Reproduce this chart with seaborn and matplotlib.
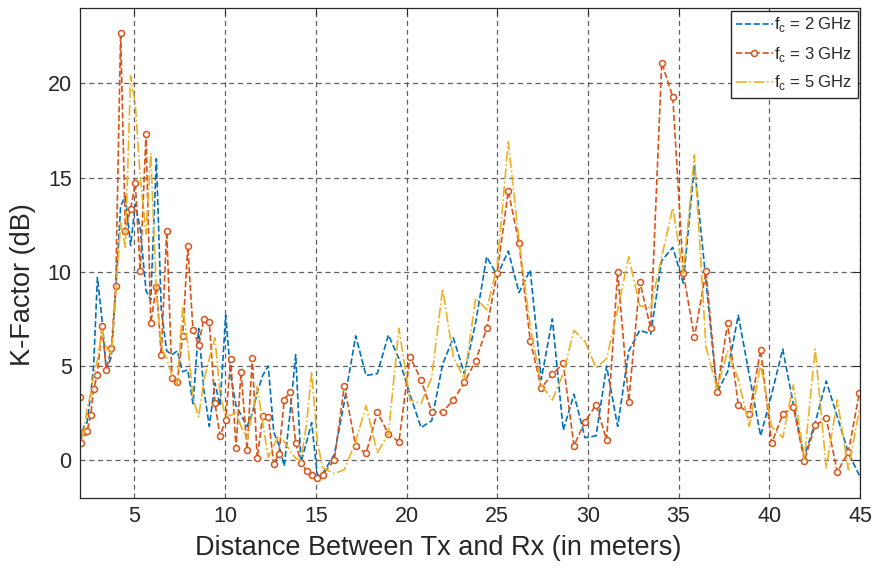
import numpy as np
import pandas as pd
import seaborn as sns
import matplotlib
matplotlib.use("Agg")
import matplotlib.pyplot as plt

distance = [2.00, 2.03, 2.22, 2.39, 2.59, 2.75, 2.96, 3.21, 3.45, 3.73,
            3.97, 4.24, 4.50, 4.79, 5.05, 5.32, 5.64, 5.90, 6.21, 6.48,
            6.78, 7.07, 7.36, 7.66, 7.94, 8.23, 8.54, 8.82, 9.13, 9.44,
            9.72, 10.03, 10.31, 10.60, 10.88, 11.21, 11.50, 11.77, 12.07, 12.38,
            12.68, 12.97, 13.26, 13.58, 13.89, 14.18, 14.50, 14.77, 15.08, 15.38,
            16.02, 16.57, 17.20, 17.77, 18.39, 19.00, 19.58, 20.19, 20.80, 21.39,
            21.99, 22.58, 23.19, 23.81, 24.42, 25.00, 25.61, 26.20, 26.82, 27.43,
            28.04, 28.64, 29.23, 29.84, 30.45, 31.03, 31.64, 32.25, 32.86, 33.46,
            34.07, 34.68, 35.26, 35.87, 36.51, 37.12, 37.70, 38.29, 38.90, 39.52,
            40.13, 40.74, 41.32, 41.93, 42.53, 43.14, 43.75, 44.36, 44.96]

k_2ghz = [0.6, 1.0, 1.8, 2.0, 3.5, 5.0, 9.7, 7.5, 4.8, 5.5,
          9.0, 13.5, 14.0, 11.4, 13.6, 12.3, 9.0, 8.5, 16.0, 8.0,
          5.8, 5.6, 5.8, 4.7, 4.8, 3.0, 7.0, 3.8, 1.8, 4.1,
          2.9, 7.7, 4.5, 2.9, 2.4, 1.8, 2.5, 3.6, 4.5, 5.0,
          1.5, 0.8, -0.3, 2.5, 5.6, -0.1, 1.0, 2.0, -0.8, -0.7,
          0.3, 3.1, 6.6, 4.5, 4.6, 6.65, 5.4, 3.5, 1.74, 2.1,
          5.1, 6.5, 4.6, 7.3, 10.8, 9.8, 11.1, 8.9, 10.1, 4.3,
          7.5, 1.6, 3.5, 1.2, 1.3, 5.0, 1.8, 5.8, 6.9, 6.7,
          10.6, 11.3, 9.4, 15.65, 9.5, 3.6, 4.7, 7.7, 4.5, 1.3,
          3.5, 5.9, 3.0, 0.2, 2.0, 4.2, 2.3, 0.4, -0.8]

k_3ghz = [3.37, 0.94, 1.49, 1.54, 2.39, 3.78, 4.54, 7.11, 4.80, 5.96,
          9.27, 22.68, 12.18, 13.35, 14.72, 10.04, 17.29, 7.29, 9.22, 5.60,
          12.18, 4.38, 4.13, 6.61, 11.35, 6.91, 6.13, 7.48, 7.32, 3.03,
          1.29, 2.14, 5.37, 0.67, 4.70, 0.55, 5.43, 0.11, 2.36, 2.32,
          -0.21, 0.36, 3.21, 3.65, 0.94, -0.12, -0.57, -0.80, -0.92, -0.76,
          0.02, 3.95, 0.76, 0.37, 2.55, 1.42, 0.97, 5.50, 4.27, 2.57,
          2.57, 3.19, 4.13, 5.28, 7.00, 9.95, 14.29, 11.53, 6.35, 3.85,
          4.56, 5.14, 0.78, 2.05, 2.95, 1.08, 9.98, 3.12, 9.47, 7.01,
          21.10, 19.27, 9.93, 6.52, 10.02, 3.63, 7.27, 2.94, 2.45, 5.87,
          0.90, 2.45, 2.84, -0.02, 1.86, 2.22, -0.62, 0.44, 3.56]

k_5ghz = [2.6, 1.0, 1.5, 2.8, 3.5, 4.5, 5.3, 6.9, 6.0, 5.6,
          8.8, 12.6, 11.3, 20.4, 18.9, 15.0, 12.0, 16.3, 9.0, 6.0,
          5.4, 4.5, 4.0, 8.1, 6.2, 3.3, 2.3, 4.2, 5.4, 6.5,
          3.5, 2.3, 2.4, 2.5, 1.8, 1.1, 2.5, 3.9, 2.0, 0.15,
          0.8, 1.3, 1.0, 0.5, 0.1, 0.0, 2.0, 4.7, 1.0, -0.4,
          -0.7, -0.5, 1.0, 2.9, 0.4, 1.4, 7.0, 3.2, 3.0, 4.4,
          9.1, 5.5, 4.3, 8.6, 8.0, 10.3, 16.9, 11.7, 7.1, 4.0,
          3.2, 4.6, 6.9, 6.3, 4.9, 5.4, 8.0, 10.8, 8.2, 8.1,
          10.8, 13.4, 9.9, 16.2, 6.0, 3.8, 5.8, 4.3, 1.8, 5.1,
          1.8, 1.2, 4.0, 0.05, 5.9, -0.4, 3.2, -0.5, 2.7]

labels = [r"f$_\mathregular{c}$ = 2 GHz", r"f$_\mathregular{c}$ = 3 GHz", r"f$_\mathregular{c}$ = 5 GHz"]
x_ticks = [5, 10, 15, 20, 25, 30, 35, 40, 45]
y_ticks = [0, 5, 10, 15, 20]

sns.set_theme(style="white")
plt.rcParams["font.family"] = ["Liberation Sans", "DejaVu Sans"]
plt.rcParams["mathtext.fontset"] = "custom"
plt.rcParams["mathtext.rm"] = "Liberation Sans"

fig = plt.figure(figsize=(8.73, 5.70), dpi=100)
ax = fig.add_axes([80 / 873, 1 - 498 / 570, 780 / 873, 490 / 570])

df = pd.DataFrame({"d": distance, "k2": k_2ghz, "k3": k_3ghz, "k5": k_5ghz})

sns.lineplot(data=df, x="d", y="k2", ax=ax, color="#0072BD", linestyle="--",
             linewidth=1.2, label=labels[0], sort=False)
sns.lineplot(data=df, x="d", y="k3", ax=ax, color="#D95319", linestyle="--",
             linewidth=1.2, marker="o", markersize=4.3, markerfacecolor="white",
             markeredgecolor="#D95319", markeredgewidth=1.1, label=labels[1], sort=False)
sns.lineplot(data=df, x="d", y="k5", ax=ax, color="#EDB120", linestyle="-.",
             linewidth=1.2, label=labels[2], sort=False)

ax.set_xlim(2, 45)
ax.set_ylim(-2, 24)
ax.set_xticks(x_ticks)
ax.set_yticks(y_ticks)
ax.grid(True, linestyle=(0, (4, 3)), color="#444444", linewidth=0.9, alpha=0.85)
ax.tick_params(direction="in", top=True, right=True, length=5, width=0.8,
               labelsize=15.5, colors="#262626", pad=6)
for s in ax.spines.values():
    s.set_color("#262626")
    s.set_linewidth(0.9)

ax.set_xlabel("Distance Between Tx and Rx (in meters)", fontsize=19.5, color="#262626", labelpad=3)
ax.xaxis.set_label_coords(0.459, -0.075)
ax.set_ylabel("K-Factor (dB)", fontsize=19.5, color="#262626", labelpad=4)
ax.yaxis.set_label_coords(-0.056, 0.435)

leg = ax.legend(loc="upper right", fontsize=12, frameon=True, fancybox=False,
                edgecolor="#262626", framealpha=1, handlelength=2.2,
                handletextpad=0.1, borderpad=0.3, labelspacing=0.6,
                borderaxespad=0.15)
leg.get_frame().set_linewidth(1.0)

fig.savefig("out.png", dpi=100)
